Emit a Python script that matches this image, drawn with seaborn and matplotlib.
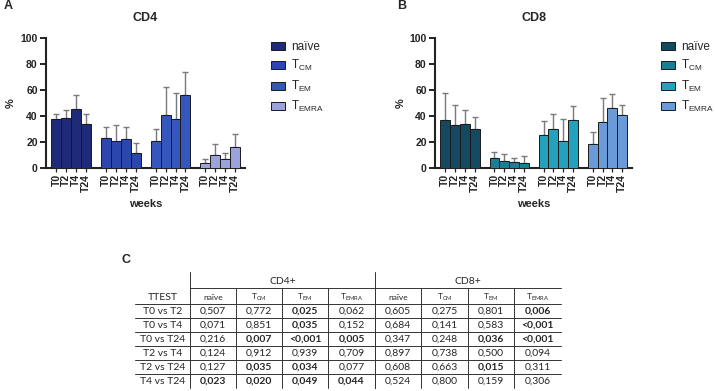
import numpy as np
import pandas as pd
import seaborn as sns
import matplotlib.pyplot as plt

# ---- data ----
weeks = ['T0', 'T2', 'T4', 'T24']
subsets = ['na\u00efve', r'T$_\mathregular{CM}$', r'T$_\mathregular{EM}$', r'T$_\mathregular{EMRA}$']

# mean % per subset (rows) and week (cols)
cd4_mean = [[37.5, 38.5, 45.5, 34.0],
            [22.8, 21.0, 22.0, 11.3],
            [20.5, 40.6, 37.5, 56.5],
            [4.1, 9.7, 6.9, 15.9]]
cd4_sd = [[4.0, 5.8, 11.0, 7.5],
          [8.5, 12.1, 9.3, 8.2],
          [9.2, 21.4, 20.0, 17.0],
          [3.1, 8.8, 4.4, 10.6]]

cd8_mean = [[36.8, 32.9, 33.7, 30.3],
            [7.5, 5.1, 4.4, 4.1],
            [25.7, 30.3, 20.8, 37.3],
            [18.3, 35.2, 45.8, 40.9]]
cd8_sd = [[21.0, 15.4, 10.8, 8.8],
          [5.1, 5.4, 3.1, 5.4],
          [10.5, 11.1, 17.2, 10.7],
          [9.2, 18.8, 11.0, 7.4]]

cd4_colors = ['#1f2b78', '#2b47ad', '#3556bd', '#9ca2dc']
cd8_colors = ['#15495f', '#1a7e94', '#22a2bc', '#6a9ad8']

# t-test table
comparisons = ['T0 vs T2', 'T0 vs T4', 'T0 vs T24', 'T2 vs T4', 'T2 vs T24', 'T4 vs T24']
cd4_p = [['0,507', '0,772', '0,025', '0,062'],
         ['0,071', '0,851', '0,035', '0,152'],
         ['0,216', '0,007', '<0,001', '0,005'],
         ['0,124', '0,912', '0,939', '0,709'],
         ['0,127', '0,035', '0,034', '0,077'],
         ['0,023', '0,020', '0,049', '0,044']]
cd8_p = [['0,605', '0,275', '0,801', '0,006'],
         ['0,684', '0,141', '0,583', '<0,001'],
         ['0,347', '0,248', '0,036', '<0,001'],
         ['0,897', '0,738', '0,500', '0,094'],
         ['0,608', '0,663', '0,015', '0,311'],
         ['0,524', '0,800', '0,159', '0,306']]

sns.set_style('ticks')
plt.rcParams['font.family'] = ['Liberation Sans', 'DejaVu Sans']
plt.rcParams['mathtext.fontset'] = 'custom'
plt.rcParams['mathtext.rm'] = 'Liberation Sans'

fig = plt.figure(figsize=(7.15, 3.91), dpi=100)


def make_df(means, sds):
    rows = []
    for g, sub in enumerate(subsets):
        for w, wk in enumerate(weeks):
            rows.append({'pos': g * 5 + w, 'subset': sub, 'week': wk,
                         'mean': means[g][w], 'sd': sds[g][w]})
    return pd.DataFrame(rows)


def bar_panel(ax, means, sds, colors, title, legend_x):
    df = make_df(means, sds)
    sns.barplot(data=df, x='pos', y='mean', hue='subset', hue_order=subsets,
                palette=colors, saturation=1, native_scale=True, dodge=False,
                width=1.0, errorbar=None, edgecolor='#1a1a1a', linewidth=0.7,
                ax=ax, zorder=3)
    ax.errorbar(df['pos'], df['mean'], yerr=[np.zeros(len(df)), df['sd']],
                fmt='none', ecolor='#7a7a7a', elinewidth=1.0, capsize=2.2,
                capthick=1.0, zorder=2)
    ax.set_xlim(-1.05, 19.0)
    ax.set_ylim(0, 100)
    ax.set_yticks(range(0, 101, 20))
    ax.set_xticks(df['pos'])
    ax.set_xticklabels(df['week'], rotation=90, fontsize=7.5, fontweight='bold')
    for lab in ax.get_yticklabels():
        lab.set_fontweight('bold')
        lab.set_fontsize(7.5)
    ax.tick_params(axis='y', length=4, width=1.4, pad=2, colors='#222222')
    ax.tick_params(axis='x', length=3, width=0.9, pad=1.5, colors='#222222')
    for s in ['left', 'bottom']:
        ax.spines[s].set_linewidth(1.5)
        ax.spines[s].set_color('#222222')
    sns.despine(ax=ax)
    ax.set_title(title, fontsize=9, fontweight='bold', pad=12)
    ax.set_xlabel('weeks', fontsize=8, fontweight='bold', labelpad=5)
    ax.set_ylabel('%', fontsize=8, fontweight='bold', labelpad=3)
    sns.move_legend(ax, loc='upper left', bbox_to_anchor=(legend_x, 1 - 41 / 391),
                    bbox_transform=fig.transFigure, frameon=False, title=None,
                    fontsize=8.5, handlelength=1.2, handleheight=0.65,
                    handletextpad=0.5, labelspacing=0.45, borderpad=0,
                    borderaxespad=0)


ax_a = fig.add_axes([46 / 715, 1 - 168 / 391, 199 / 715, 130 / 391])
ax_b = fig.add_axes([435 / 715, 1 - 168 / 391, 197 / 715, 130 / 391])
bar_panel(ax_a, cd4_mean, cd4_sd, cd4_colors, 'CD4', 271 / 715)
bar_panel(ax_b, cd8_mean, cd8_sd, cd8_colors, 'CD8', 661 / 715)

fig.text(4 / 715, 1 - 6 / 391, 'A', fontsize=9, fontweight='bold', va='center')
fig.text(397 / 715, 1 - 6 / 391, 'B', fontsize=9, fontweight='bold', va='center')
fig.text(121 / 715, 1 - 260 / 391, 'C', fontsize=9, fontweight='bold', va='center')

# ---- table C, drawn in pixel coordinates ----
ax_t = fig.add_axes([0, 0, 1, 1], zorder=-1)
ax_t.set_xlim(0, 715)
ax_t.set_ylim(391, 0)
ax_t.axis('off')

tfont = ['Lato', 'DejaVu Sans']
col_edges = [135, 190, 236, 282, 328, 375, 421, 468, 514, 561]
row_y = [311 + 14 * i for i in range(len(comparisons))]
lc = '#333333'
lw = 0.7

# top group headers
ax_t.plot([190, 190], [272, 388], color=lc, lw=lw)
ax_t.plot([375, 375], [272, 388], color=lc, lw=lw)
ax_t.plot([190, 561], [288, 288], color=lc, lw=lw)
ax_t.text((190 + 375) / 2, 281, 'CD4+', ha='center', va='center', fontsize=7.5, family=tfont)
ax_t.text((375 + 561) / 2, 281, 'CD8+', ha='center', va='center', fontsize=7.5, family=tfont)
# header row
ax_t.plot([135, 561], [304, 304], color=lc, lw=lw)
ax_t.text((col_edges[0] + col_edges[1]) / 2, 297, 'TTEST', ha='center', va='center',
          fontsize=7.5, family=tfont)
for j, sub in enumerate(subsets * 2):
    xc = (col_edges[j + 1] + col_edges[j + 2]) / 2
    ax_t.text(xc, 297, sub, ha='center', va='center', fontsize=6, family=tfont)
for x in col_edges[2:-1]:
    ax_t.plot([x, x], [288, 388], color=lc, lw=lw)
# body rows
for i, comp in enumerate(comparisons):
    y = row_y[i]
    if i < len(comparisons) - 1:
        ax_t.plot([135, 561], [y + 7, y + 7], color=lc, lw=lw)
    ax_t.text((col_edges[0] + col_edges[1]) / 2, y, comp, ha='center', va='center',
              fontsize=7.5, family=tfont)
    vals = cd4_p[i] + cd8_p[i]
    for j, v in enumerate(vals):
        num = float(v.lstrip('<').replace(',', '.'))
        bold = v.startswith('<') or num < 0.05
        xc = (col_edges[j + 1] + col_edges[j + 2]) / 2
        ax_t.text(xc, y, v, ha='center', va='center', fontsize=7.5, family=tfont,
                  fontweight='bold' if bold else 'normal')

fig.savefig('out.png', dpi=100)
